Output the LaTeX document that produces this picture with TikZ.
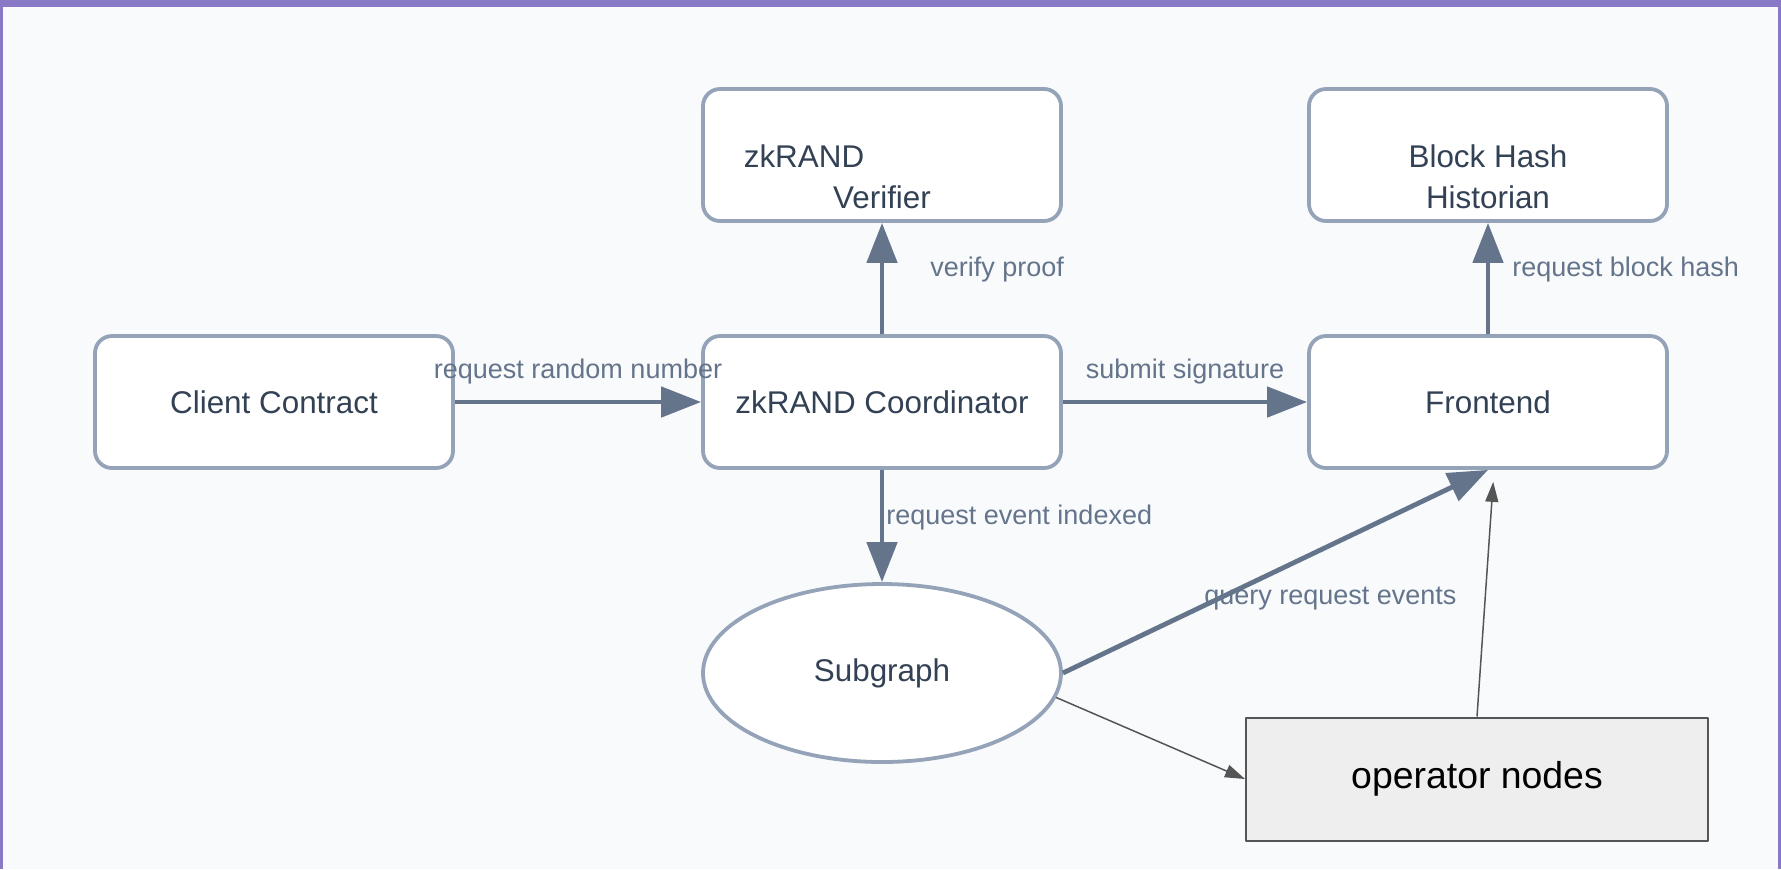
\documentclass[tikz,border=0pt]{standalone}
\usepackage{fontspec}
\setmainfont{Liberation Sans}
\usetikzlibrary{arrows.meta,shapes.geometric}
\definecolor{framepurple}{HTML}{8878C6}
\definecolor{canvas}{HTML}{F8FAFC}
\definecolor{boxline}{HTML}{94A3B8}
\definecolor{flowline}{HTML}{64748B}
\definecolor{boxtxt}{HTML}{334155}
\definecolor{lbltxt}{HTML}{64748B}
\definecolor{opline}{HTML}{555555}
\definecolor{opfill}{HTML}{EEEEEE}
\tikzset{
  box/.style={draw=boxline, line width=1.9pt, fill=white, rounded corners=8.5pt,
    minimum width=179pt, minimum height=66pt, inner sep=0pt, text=boxtxt,
    font=\fontsize{15.7pt}{20.5pt}\selectfont},
  boxtext/.style={text=boxtxt, align=center, inner sep=0pt,
    font=\fontsize{15.7pt}{20.5pt}\selectfont},
  oval/.style={ellipse, draw=boxline, line width=1.9pt, fill=white,
    minimum width=179pt, minimum height=89pt, inner sep=0pt, text=boxtxt,
    font=\fontsize{15.7pt}{20.5pt}\selectfont},
  opbox/.style={draw=opline, line width=1pt, fill=opfill, minimum width=231pt,
    minimum height=61.5pt, inner sep=0pt, font=\fontsize{18.7pt}{22pt}\selectfont},
  elabel/.style={text=lbltxt, inner sep=0pt, font=\fontsize{13.5pt}{16pt}\selectfont},
  flow/.style={draw=flowline, line width=2.4pt, -{Triangle[length=20pt,width=15pt]}},
  opflow/.style={draw=opline, line width=0.75pt, -{Triangle[length=10pt,width=6.5pt]}},
}
\begin{document}
\begin{tikzpicture}[x=0.5pt, y=-0.5pt, line join=round]
% frame and canvas
\fill[framepurple] (0,0) rectangle (1781,869);
\fill[canvas] (3,7) rectangle (1778,869);
\useasboundingbox (0,0) rectangle (1781,869);

% nodes
\node[box] (client) at (274,402) {Client Contract};
\node[box] (coord) at (882,402) {zkRAND Coordinator};
\node[box, label={[boxtext, yshift=-10.75pt]center:{zkRAND\hspace*{78pt}\\Verifier}}] (verifier) at (882,155) {};
\node[box, label={[boxtext, yshift=-10.75pt]center:{Block Hash\\Historian}}] (historian) at (1488,155) {};
\node[box] (frontend) at (1488,402) {Frontend};
\node[oval] (subgraph) at (882,673) {Subgraph};
\node[opbox] (operator) at (1477,779) {operator nodes};

% connectors
\draw[flow] (client) -- (coord) node[elabel, midway, yshift=15pt]{request random number};
\draw[flow] (coord) -- (verifier) node[elabel, midway, anchor=west, xshift=23pt, yshift=4.25pt]{verify proof};
\draw[flow] (coord) -- (frontend) node[elabel, midway, yshift=15pt]{submit signature};
\draw[flow] (frontend) -- (historian) node[elabel, midway, anchor=west, xshift=11pt, yshift=4.25pt]{request block hash};
\draw[flow] (coord) -- (subgraph) node[elabel, midway, anchor=west, xshift=1pt, yshift=4pt]{request event indexed};
\draw[flow] (subgraph.east) -- (frontend.south) node[elabel, midway, xshift=27.5pt, yshift=-13.5pt]{query request events};
\draw[opflow] (subgraph.-8) -- (operator.west);
\draw[opflow, shorten >=6pt] (operator.north) -- ([xshift=3pt]frontend.south);
\end{tikzpicture}
\end{document}
